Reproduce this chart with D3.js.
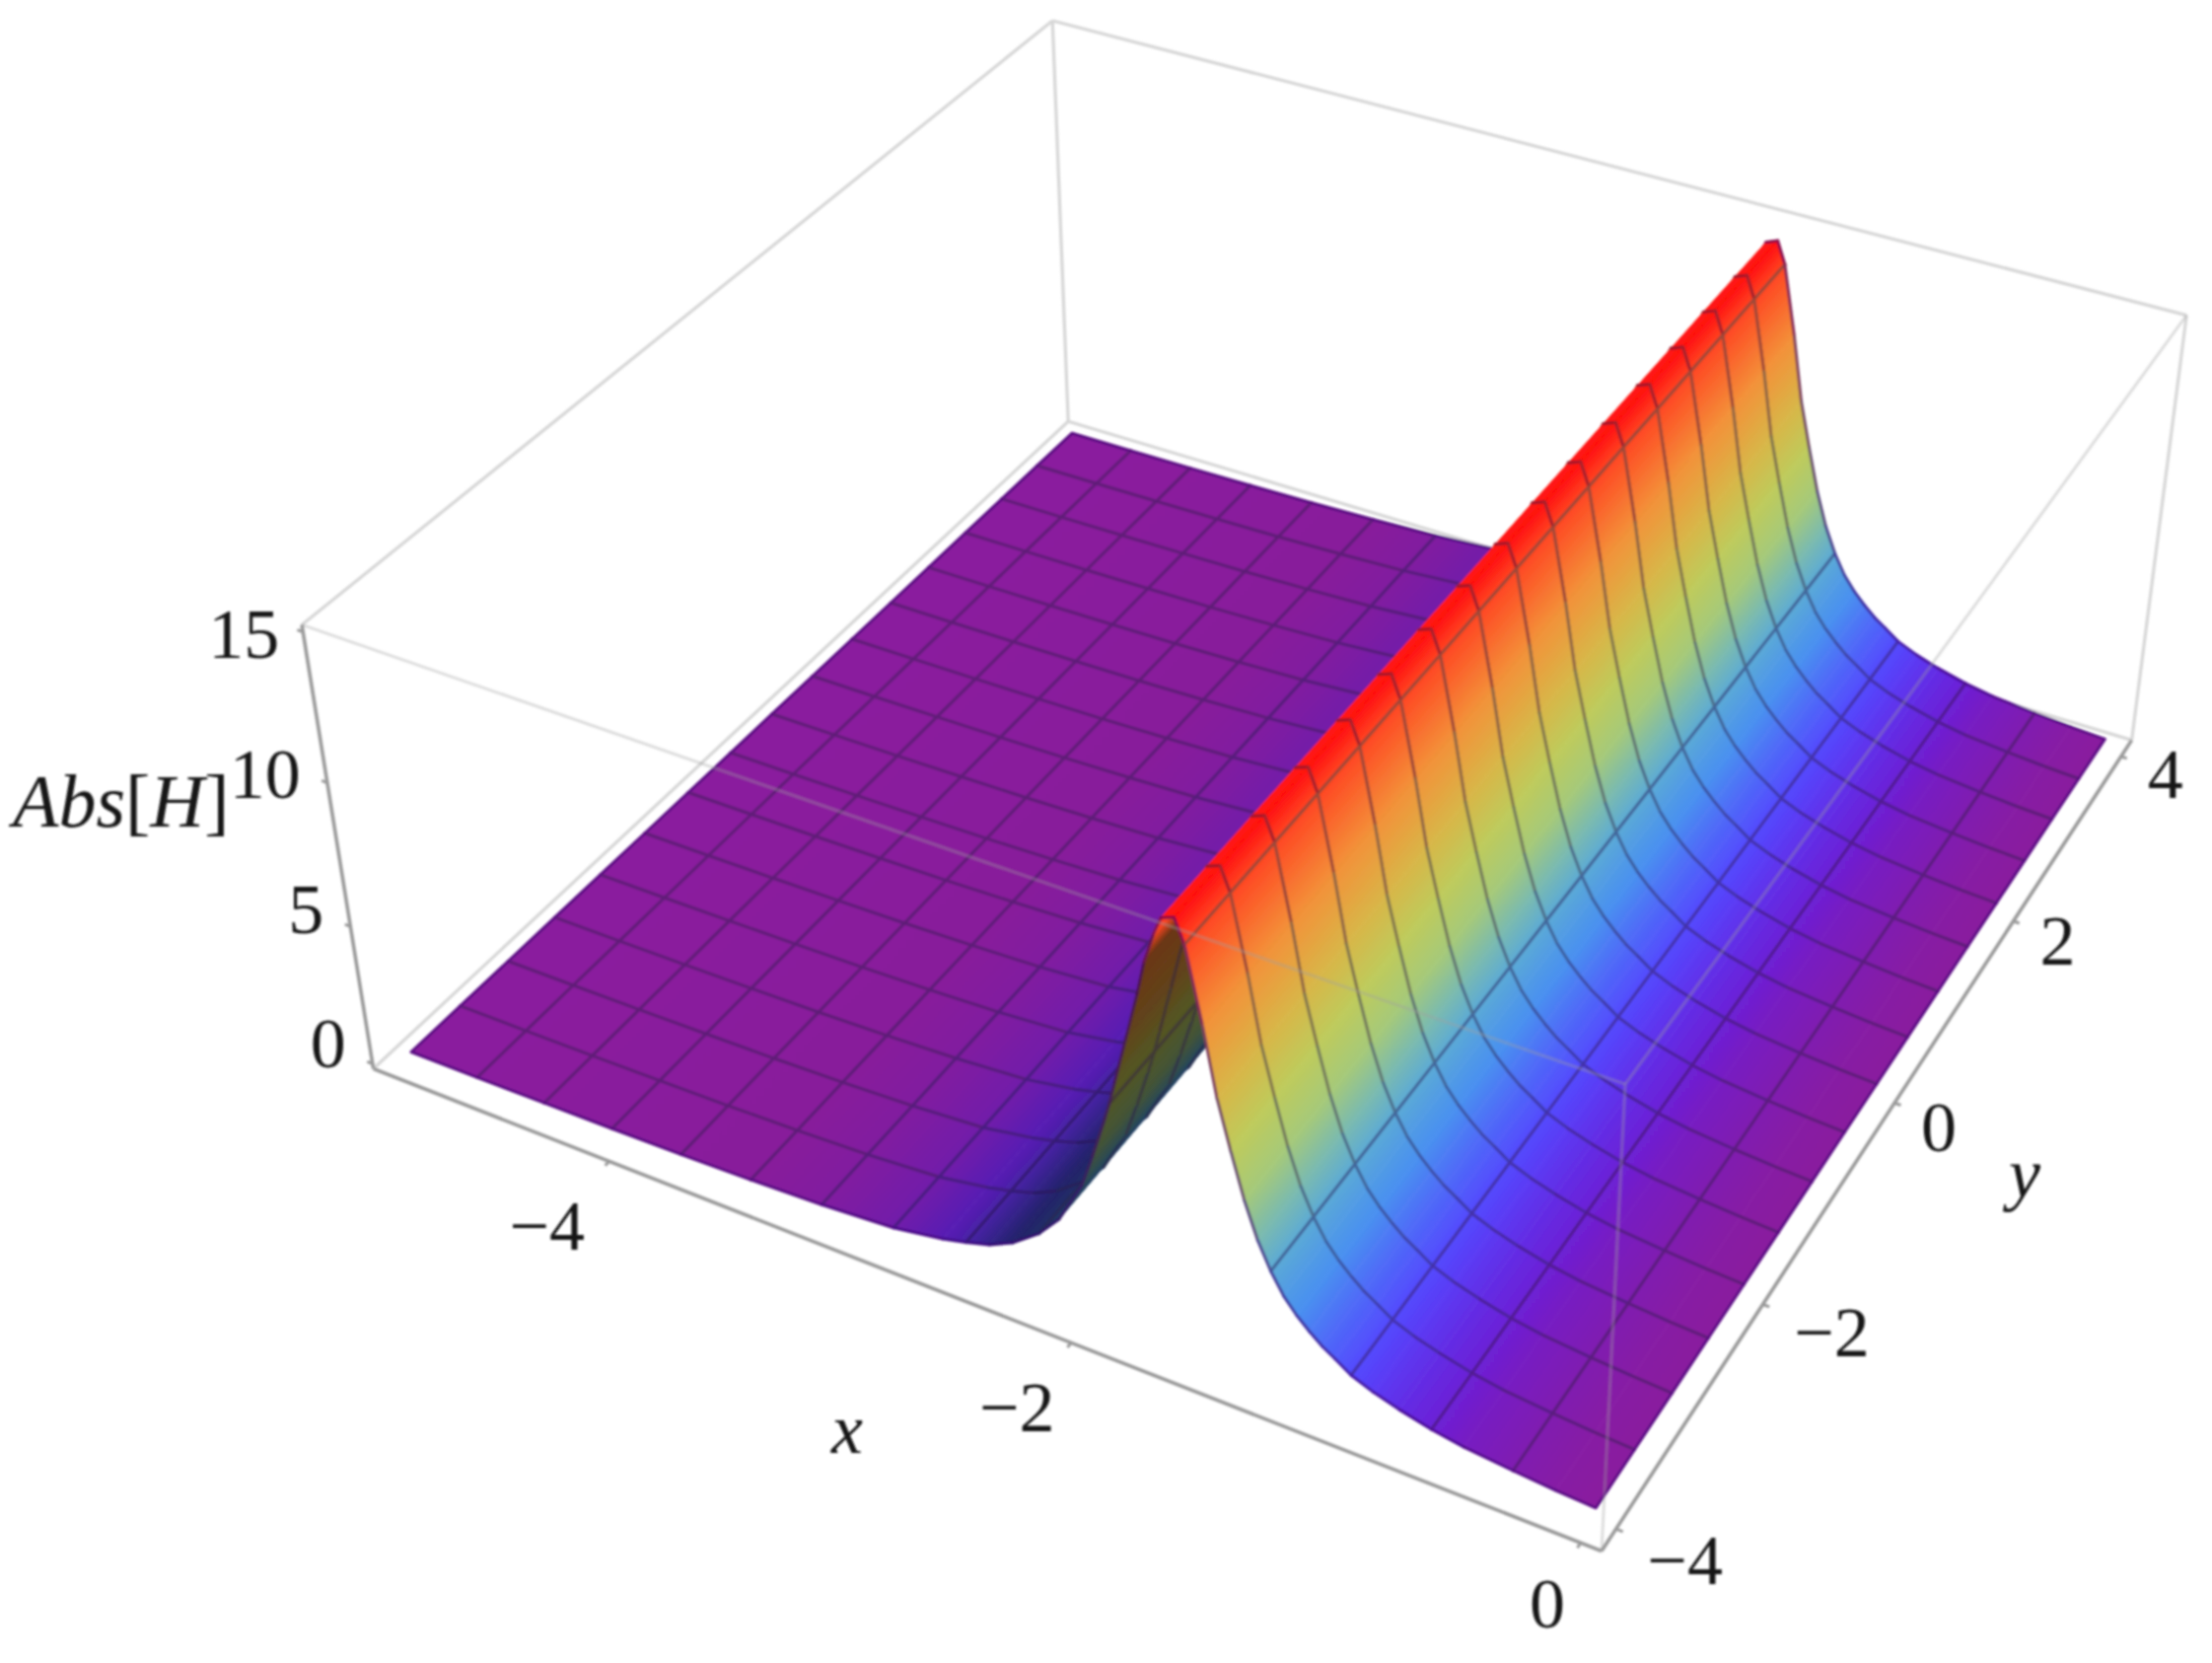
<!DOCTYPE html>
<html><head><meta charset="utf-8">
<script src="https://cdn.jsdelivr.net/npm/d3@7"></script>
<style>html,body{margin:0;padding:0;background:#fff}svg{display:block}
text{font-family:"Liberation Serif",serif;fill:#141414}</style></head>
<body><svg id="c" width="2243" height="1686"></svg>
<script>
// ---- data ----
const xNodes=[-5,-4.6875,-4.375,-4.0625,-3.75,-3.4375,-3.125,-2.8125,-2.6,-2.5,-2.4,-2.3,-2.1875,-2.1,-2,-1.95,-1.9,-1.875,-1.85,-1.8,-1.75,-1.72,-1.68,-1.65,-1.6,-1.5625,-1.5,-1.45,-1.4,-1.35,-1.3,-1.25,-1.2,-1.15,-1.1,-1.05,-1,-0.9375,-0.85,-0.75,-0.625,-0.5,-0.3125,-0.15,0];
const zProfile=[0.1,0.11,0.13,0.16,0.2,0.27,0.37,0.55,0.85,1.05,1.3,1.7,2.4,3.2,4.7,5.9,7.2,7.9,8.7,10.3,11.9,13,14,14.6,14.75,14,11.6,9.4,7.8,6.3,5.1,4.2,3.5,3,2.6,2.25,1.98,1.62,1.32,1.06,0.8,0.62,0.46,0.35,0.28];
const yNodes=[-4,-3.5,-3,-2.5,-2,-1.5,-1,-0.5,0,0.5,1,1.5,2,2.5,3,3.5,4];
const xMesh=[-4.6875,-4.375,-4.0625,-3.75,-3.4375,-3.125,-2.8125,-2.5,-2.1875,-1.875,-1.5625,-1.25,-0.9375,-0.625,-0.3125];
const xTicks=[-4,-2,0], yTicks=[-4,-2,0,2,4], zTicks=[0,5,10,15];
const colorZ=[0.3,0.8,1.5,3,4.5,6,8.4,10.4,13,14.2,14.75];
const colorHex=["#8a1c9e","#6c20d6","#5544ff","#4a90f0","#60b0d0","#a0c880","#c8cc50","#e8a040","#ff8030","#ff3a20","#ff1010"];
const xLabelShift=[[-63,66],[-55,66],[-34,62]];
const yLabelShift=[[70,32],[70,29],[45,25],[45,20],[45,18]];
const zLabelShift=[[-45,-21],[-45,-17],[-63,-9],[-60,2]];
// box corners in the picture (unit box X,Y,Z -> pixel)
const corners=[[0,0,0,377,1082],[1,0,0,1623,1571],[1,1,0,2163,751],[0,1,0,1084,429],[0,0,1,307,634],[1,0,1,1650,1102],[1,1,1,2215,318],[0,1,1,1067,20]];

// ---- projection fit ----
function solve(A,b){const n=b.length,M=A.map((r,i)=>[...r,b[i]]);
 for(let i=0;i<n;i++){let p=i;for(let k=i+1;k<n;k++)if(Math.abs(M[k][i])>Math.abs(M[p][i]))p=k;[M[i],M[p]]=[M[p],M[i]];
  for(let k=i+1;k<n;k++){const f=M[k][i]/M[i][i];for(let j=i;j<=n;j++)M[k][j]-=f*M[i][j];}}
 const x=Array(n).fill(0);for(let i=n-1;i>=0;i--){let s=M[i][n];for(let j=i+1;j<n;j++)s-=M[i][j]*x[j];x[i]=s/M[i][i];}return x;}
const rows=[],rhs=[];
corners.forEach(([X,Y,Z,u,v])=>{u/=1000;v/=1000;
 rows.push([X,Y,Z,1,0,0,0,0,-u*X,-u*Y,-u*Z]);rhs.push(u);
 rows.push([0,0,0,0,X,Y,Z,1,-v*X,-v*Y,-v*Z]);rhs.push(v);});
const ATA=d3.range(11).map(i=>d3.range(11).map(j=>d3.sum(rows,r=>r[i]*r[j])));
const ATb=d3.range(11).map(i=>d3.sum(rows,(r,k)=>r[i]*rhs[k]));
const p=solve(ATA,ATb);
function proj(X,Y,Z){const w=p[8]*X+p[9]*Y+p[10]*Z+1;return [1000*(p[0]*X+p[1]*Y+p[2]*Z+p[3])/w,1000*(p[4]*X+p[5]*Y+p[6]*Z+p[7])/w];}
const cam=solve([[p[0],p[1],p[2]],[p[4],p[5],p[6]],[p[8],p[9],p[10]]],[-p[3],-p[7],-1]);

const sx=d3.scaleLinear([-5,0],[0.019,0.985]);
const sy=d3.scaleLinear([-4,4],[0.022,0.975]);
const sz=d3.scaleLinear([0,15],[0.012,0.985]);
const pt=(x,y,z)=>proj(sx(x),sy(y),sz(z));
const color=d3.scaleLinear(colorZ,colorHex).interpolate(d3.interpolateRgb).clamp(true);

const svg=d3.select("#c");
const defs=svg.append("defs");
defs.append("filter").attr("id","soft").attr("filterUnits","userSpaceOnUse").attr("x",0).attr("y",0).attr("width",2243).attr("height",1686)
 .append("feGaussianBlur").attr("stdDeviation",1);
const root=svg.append("g").attr("filter","url(#soft)");

// shade at each node: the slope facing away from the light darkens
const peak=d3.maxIndex(zProfile);
const slope=xNodes.map((x,i)=>{const a=Math.max(i-1,0),b=Math.min(i+1,xNodes.length-1);return (zProfile[b]-zProfile[a])/(xNodes[b]-xNodes[a]);});
const shade=Float64Array.from(slope,(s,i)=>i<peak-2?1-0.58*Math.min(1,Math.pow(Math.max(s,0)/4,1.3)):1);
const nodeColor=i=>{const c=d3.rgb(color(zProfile[i]));const f=shade[i];return d3.rgb(c.r*f,c.g*f,c.b*f).formatRgb();};

// box edges
const line=d3.line();
function edge(g,a,b,col,w,op){g.append("path").attr("d",line([proj(...a),proj(...b)])).attr("fill","none").attr("stroke",col).attr("stroke-width",w).attr("stroke-opacity",op);}
const back=root.append("g");
[[[0,0,0],[0,1,0]],[[0,1,0],[1,1,0]],[[0,1,0],[0,1,1]],[[0,0,1],[0,1,1]],[[0,1,1],[1,1,1]],[[1,1,0],[1,1,1]]].forEach(e=>edge(back,e[0],e[1],"#d6d6d6",3.2,1));

// cells
const cells=[];
for(let j=0;j<yNodes.length-1;j++)for(let i=0;i<xNodes.length-1;i++)cells.push({i,j});
const dy=c=>Math.abs((sy(yNodes[c.j])+sy(yNodes[c.j+1]))/2-cam[1]);
const dx=c=>Math.abs((sx(xNodes[c.i])+sx(xNodes[c.i+1]))/2-cam[0]);
cells.sort((a,b)=>d3.descending(dy(a),dy(b))||d3.descending(dx(a),dx(b)));
const nx=xNodes.length-1,ny=yNodes.length-1;
cells.forEach((c,k)=>{
 const {i,j}=c,z0=zProfile[i],z1=zProfile[i+1];
 c.k=k;
 c.a=pt(xNodes[i],yNodes[j],z0);c.b=pt(xNodes[i+1],yNodes[j],z1);c.c=pt(xNodes[i+1],yNodes[j+1],z1);c.d=pt(xNodes[i],yNodes[j+1],z0);
 const dd=[c.d[0]-c.a[0],c.d[1]-c.a[1]],L=Math.hypot(...dd),n=[dd[0]/L,dd[1]/L];
 const v=[c.b[0]-c.a[0],c.b[1]-c.a[1]],t=v[0]*n[0]+v[1]*n[1];
 c.g=[c.a[0],c.a[1],c.a[0]+v[0]-t*n[0],c.a[1]+v[1]-t*n[1]];
});
const grads=defs.selectAll("linearGradient").data(cells).join("linearGradient")
 .attr("id",c=>"g"+c.k).attr("gradientUnits","userSpaceOnUse")
 .attr("x1",c=>c.g[0]).attr("y1",c=>c.g[1]).attr("x2",c=>c.g[2]).attr("y2",c=>c.g[3]);
grads.append("stop").attr("offset",0).attr("stop-color",c=>nodeColor(c.i));
grads.append("stop").attr("offset",1).attr("stop-color",c=>nodeColor(c.i+1));

const isMeshX=i=>xMesh.includes(xNodes[i]);
const meshCol=(c)=>d3.interpolateRgb(d3.interpolateRgb(nodeColor(c.i),nodeColor(c.i+1))(0.5),"#2a1c48")(0.44);
const edgeCol=(c)=>d3.interpolateRgb(d3.interpolateRgb(nodeColor(c.i),nodeColor(c.i+1))(0.5),"#3a0070")(0.6);
const surf=root.append("g");
const cg=surf.selectAll("g").data(cells).join("g");
cg.append("path").attr("d",c=>line([c.a,c.b,c.c,c.d])+"Z").attr("fill",c=>`url(#g${c.k})`).attr("stroke",c=>`url(#g${c.k})`).attr("stroke-width",0.8);
cg.append("path").attr("fill","none").attr("stroke",meshCol).attr("stroke-width",3).attr("stroke-linecap","round")
 .attr("d",c=>{let s="";
  if(isMeshX(c.i))s+=line([c.a,c.d]);
  if(isMeshX(c.i+1))s+=line([c.b,c.c]);
  if(c.j>0)s+=line([c.a,c.b]);
  if(c.j<ny-1)s+=line([c.d,c.c]);
  return s||null;});
cg.append("path").attr("fill","none").attr("stroke",edgeCol).attr("stroke-width",3).attr("stroke-linecap","round")
 .attr("d",c=>{let s="";
  if(c.i===0)s+=line([c.a,c.d]);
  if(c.i===nx-1)s+=line([c.b,c.c]);
  if(c.j===0)s+=line([c.a,c.b]);
  if(c.j===ny-1)s+=line([c.d,c.c]);
  return s||null;});

// front box edges, seen through the surface
const front=root.append("g");
[[[0,0,1],[1,0,1]],[[1,0,0],[1,0,1]],[[1,0,1],[1,1,1]]].forEach(e=>edge(front,e[0],e[1],"#a0a0a0",3,0.36));
// axes
const ax=root.append("g");
[[[0,0,0],[1,0,0]],[[1,0,0],[1,1,0]],[[0,0,0],[0,0,1]]].forEach(e=>edge(ax,e[0],e[1],"#9a9a9a",3.6,1));

// ticks and labels
const fs=72;
function lab(g,s,x,y,ital){const t=g.append("text").attr("x",x).attr("y",y).attr("font-size",fs).attr("text-anchor","middle").attr("dominant-baseline","central").text(s);if(ital)t.attr("font-style","italic");return t;}
const minus=v=>v<0?"\u2212"+Math.abs(v):String(v);
const tg=root.append("g");
xTicks.forEach((t,k)=>{const q=proj(sx(t),0,0),q2=proj(sx(t),-0.005,0);
 tg.append("path").attr("d",line([q,q2])).attr("stroke","#9a9a9a").attr("stroke-width",3);
 lab(tg,minus(t),q[0]+xLabelShift[k][0],q[1]+xLabelShift[k][1]);});
yTicks.forEach((t,k)=>{const q=proj(1,sy(t),0),q2=proj(1.005,sy(t),0);
 tg.append("path").attr("d",line([q,q2])).attr("stroke","#9a9a9a").attr("stroke-width",3);
 lab(tg,minus(t),q[0]+yLabelShift[k][0],q[1]+yLabelShift[k][1]);});
zTicks.forEach((t,k)=>{const q=proj(0,0,sz(t)),q2=proj(-0.005,0,sz(t));
 tg.append("path").attr("d",line([q,q2])).attr("stroke","#9a9a9a").attr("stroke-width",3);
 lab(tg,String(t),q[0]+zLabelShift[k][0],q[1]+zLabelShift[k][1]);});
lab(tg,"x",859,1449,true);
lab(tg,"y",2053,1190,true);
const ab=tg.append("text").attr("x",13).attr("y",838).attr("font-size",76);
ab.append("tspan").attr("font-style","italic").text("Abs");
ab.append("tspan").text("[");
ab.append("tspan").attr("font-style","italic").text("H");
ab.append("tspan").text("]");
</script></body></html>
